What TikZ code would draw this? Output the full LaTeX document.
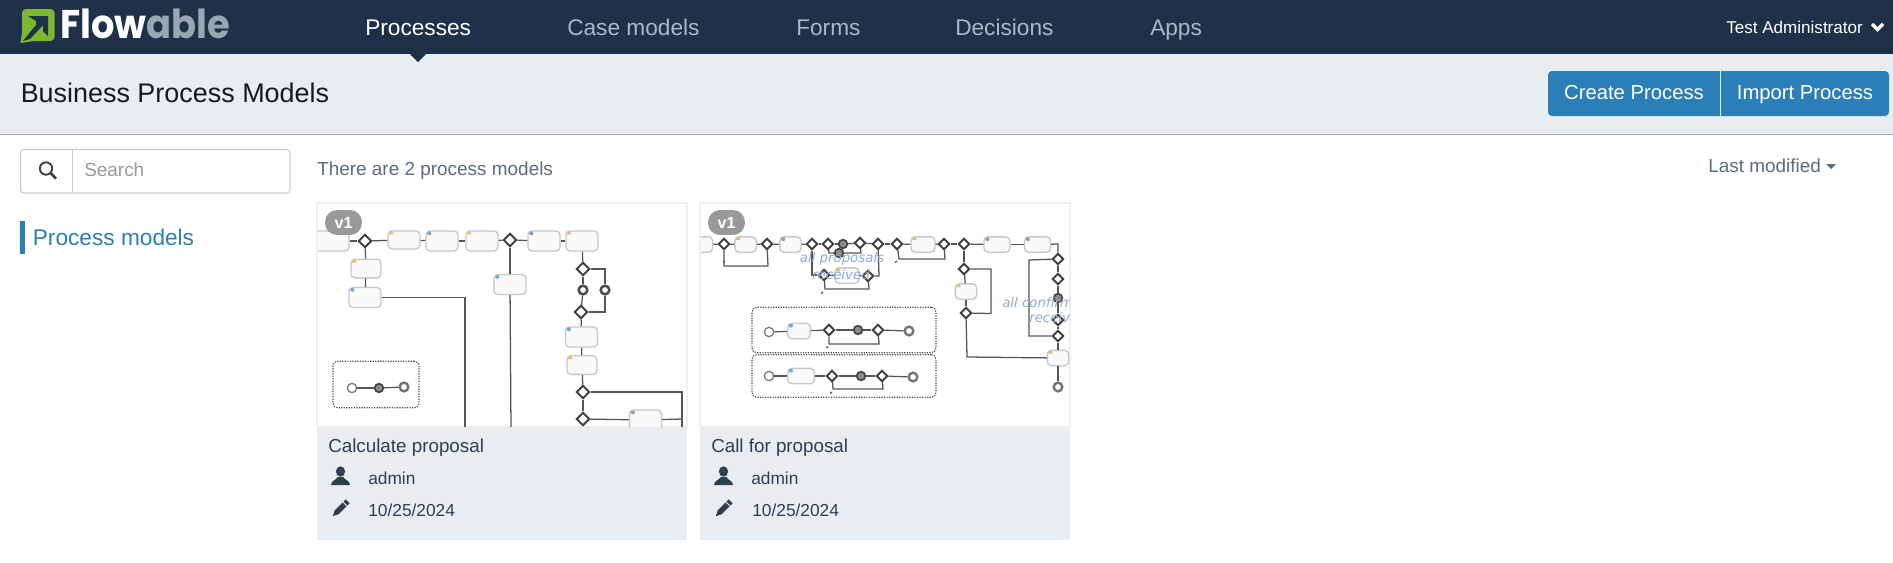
\documentclass[tikz,border=0pt]{standalone}
\usepackage{fontspec}
\setmainfont{Liberation Sans}
\newfontfamily\logofont{Poppins}
\newfontfamily\notefont{DejaVu Sans}
\usetikzlibrary{shapes.geometric}
\definecolor{navbg}{HTML}{1F3148}
\definecolor{headbg}{HTML}{E8EDF1}
\definecolor{headline}{HTML}{A8B2BD}
\definecolor{navgrey}{HTML}{A9B9C6}
\definecolor{btnblue}{HTML}{2A7FB8}
\definecolor{cardline}{HTML}{EDEFF1}
\definecolor{inktext}{HTML}{2F3F52}
\definecolor{softtext}{HTML}{5C6B80}
\definecolor{flowline}{HTML}{555555}
\definecolor{logogreen}{HTML}{79B82F}
\definecolor{notecol}{HTML}{8FAAD4}
\definecolor{warncol}{HTML}{E2BC6E}
\definecolor{infocol}{HTML}{6FA8DC}
\tikzset{
  navlabel/.style={anchor=base west,inner sep=0pt,font=\fontsize{17}{20}\selectfont},
  btnlabel/.style={anchor=base,inner sep=0pt,text=white,font=\fontsize{15.2}{18}\selectfont},
  cardtitle/.style={anchor=base west,inner sep=0pt,text=inktext,font=\fontsize{14.1}{17}\selectfont},
  cardtext/.style={anchor=base west,inner sep=0pt,text=inktext,font=\fontsize{13}{16}\selectfont},
  badge/.style={fill=black!40,rounded corners=9pt,text=white,inner sep=0pt,minimum width=27.7pt,minimum height=18.7pt,font=\bfseries\fontsize{12}{14}\selectfont},
  taskbox/.style={draw=black!22,line width=1pt,fill=black!2,rounded corners=3pt,inner sep=0pt},
  bigtask/.style={taskbox,minimum width=24pt,minimum height=15pt},
  smalltask/.style={taskbox,minimum width=16pt,minimum height=11.5pt},
  gate/.style={diamond,draw=black!75,fill=white,line width=1.4pt,inner sep=0pt,minimum size=10pt},
  smallgate/.style={gate,minimum size=8.5pt},
  endevent/.style={circle,draw=black!55,fill=white,line width=1.8pt,inner sep=0pt,minimum size=6.5pt},
  midevent/.style={circle,draw=black!75,fill=black!45,line width=1.2pt,inner sep=0pt,minimum size=6.5pt},
  ringevent/.style={circle,draw=black!70,fill=white,line width=1.9pt,inner sep=0pt,minimum size=6.5pt},
  startevent/.style={circle,draw=black!50,fill=white,line width=1pt,inner sep=0pt,minimum size=7pt},
  flow/.style={draw=flowline,line width=.95pt},
  poolbox/.style={draw=black!70,densely dotted,line width=.9pt,rounded corners=3.5pt},
  notelabel/.style={inner sep=0pt,text=notecol,font=\notefont\itshape\fontsize{10}{12}\selectfont},
  warnmark/.pic={\fill[warncol] (0,-3)--(2.4,1)--(-2.4,1)--cycle;},
  infomark/.pic={\fill[infocol] (0,0) circle (2);},
  personicon/.pic={\fill[inktext] (0,-4.5) ellipse (4.6 and 5.2);
    \fill[inktext] (-9.5,9) .. controls (-9.5,4.5) and (-4,4) .. (-2.8,1) -- (2.8,1) .. controls (4,4) and (9.5,4.5) .. (9.5,9) -- cycle;},
  pencilicon/.pic={\fill[inktext,rotate=45] (-6,-2.8) -- (5,-2.8) -- (5,2.8) -- (-6,2.8) -- (-11.5,0) -- cycle;
    \fill[inktext,rotate=45] (6.3,-2.8) -- (9.5,-2.8) -- (9.5,2.8) -- (6.3,2.8) -- cycle;}
}
\begin{document}
\begin{tikzpicture}[x=.75pt,y=-.75pt]
\useasboundingbox (0,0) rectangle (1893,562);
\fill[white] (0,0) rectangle (1893,562);
% top bar
\fill[headbg] (0,54) rectangle (1893,134);
\draw[headline,line width=.9pt] (0,134.7) -- (1893,134.7);
\fill[navbg] (0,0) rectangle (1893,54);
\fill[navbg] (410,54) -- (426,54) -- (418,62) -- cycle;
\fill[logogreen,rounded corners=3pt] (22,9) rectangle (54.5,41);
\fill[logogreen] (22,33) -- (20.5,43) -- (34,41) -- cycle;
\fill[navbg] (28,16) -- (48,16) -- (48,36) -- (43,31) -- (43,24) -- (36,24) -- (36,21) -- cycle;
\fill[navbg] (23,41) -- (40,20) -- (44,24) -- (30,39) -- cycle;
\node[anchor=base west,inner sep=0pt,text=white,font=\logofont\bfseries\fontsize{30}{36}\selectfont] (logotext) at (60,38.5) {\scalebox{.92}[1]{Flow\textcolor{navgrey!90!black}{able}}};
\node[navlabel,text=white] (navproc) at (365,35) {Processes};
\node[navlabel,text=navgrey] (navcase) at (567,35) {Case models};
\node[navlabel,text=navgrey] (navform) at (796,35) {Forms};
\node[navlabel,text=navgrey] (navdec) at (955,35) {Decisions};
\node[navlabel,text=navgrey] (navapps) at (1150,35) {Apps};
\node[anchor=base west,inner sep=0pt,text=white,font=\fontsize{12.8}{15}\selectfont] (user) at (1726,33) {Test Administrator};
\draw[white,line width=2.6pt] (1872,24) -- (1877.5,29.5) -- (1883,24);
% header row
\node[anchor=base west,inner sep=0pt,text=black!90,font=\fontsize{20.2}{24}\selectfont] (pagetitle) at (20.5,102) {Business Process Models};
\fill[btnblue,rounded corners=3pt] (1548,71) rectangle (1889,116);
\draw[white!85!btnblue,line width=.7pt] (1720,71) -- (1720,116);
\node[btnlabel] (btncreate) at (1634,99.3) {Create Process};
\node[btnlabel] (btnimport) at (1805,99.3) {Import Process};
% side bar
\draw[black!20,line width=.8pt,rounded corners=2.5pt] (20.5,149.5) rectangle (290,193);
\draw[black!20,line width=.8pt] (72.5,149.5) -- (72.5,193);
\draw[black!75,line width=1.4pt] (46,168.5) circle (6.2);
\draw[black!75,line width=1.9pt] (50.5,173) -- (56,178.5);
\node[anchor=base west,inner sep=0pt,text=black!40,font=\fontsize{14.2}{17}\selectfont] (searchtext) at (84,176.7) {Search};
\fill[btnblue] (20,221) rectangle (25,254);
\node[anchor=base west,inner sep=0pt,text=btnblue,font=\fontsize{17}{20}\selectfont] (sidelink) at (32.6,245) {Process models};
% list header
\node[anchor=base west,inner sep=0pt,text=softtext,font=\fontsize{14.2}{17}\selectfont] (countline) at (317,175) {There are 2 process models};
\node[anchor=base west,inner sep=0pt,text=softtext,font=\fontsize{14.2}{17}\selectfont] (sortline) at (1708,172) {Last modified};
\fill[softtext] (1826,164) -- (1836,164) -- (1831,169) -- cycle;
% first card
\fill[headbg] (317,426) rectangle (687,540);
\draw[cardline,line width=.8pt] (317,426) -- (317,203) -- (687,203) -- (687,426);
\begin{scope}
\clip (317.5,203.5) rectangle (686.5,426);
\node[bigtask,minimum width=33pt] (a0) at (327,241) {};
\node[gate] (a1) at (365,241) {};
\node[bigtask,minimum height=13.5pt] (a2) at (404,240) {};
\node[bigtask] (a3) at (442,241) {};
\node[bigtask] (a4) at (482,241) {};
\node[gate] (a5) at (510,240) {};
\node[bigtask] (a6) at (544,241) {};
\node[bigtask] (a7) at (582,241) {};
\node[bigtask,minimum width=22.5pt,minimum height=14pt] (a8) at (366,268.5) {};
\node[bigtask] (a9) at (365,297.5) {};
\node[bigtask] (a10) at (510,284.5) {};
\node[gate] (a11) at (583,269) {};
\node[ringevent] (a12) at (583,290) {};
\node[ringevent] (a13) at (605,290) {};
\node[gate] (a14) at (581,312) {};
\node[bigtask] (a15) at (581.5,337) {};
\node[bigtask,minimum width=22.5pt,minimum height=14pt] (a16) at (582,365) {};
\node[gate] (a17) at (583,392) {};
\node[gate] (a18) at (583,419) {};
\node[bigtask] (a19) at (645.5,420) {};
\coordinate (a9end) at (465,430);
\coordinate (a10end) at (511,430);
\coordinate (a17end) at (682,430);
\coordinate (a18end) at (583,430);
\coordinate (a19end) at (682,419);
\draw[flow] (a0) -- (a1);
\draw[flow] (a1) -- (a2);
\draw[flow] (a2) -- (a3);
\draw[flow] (a3) -- (a4);
\draw[flow] (a4) -- (a5);
\draw[flow] (a5) -- (a6);
\draw[flow] (a6) -- (a7);
\draw[flow] (a1) -- (a8);
\draw[flow] (a8) -- (a9);
\draw[flow] (a9.east) -| (a9end);
\draw[flow] (a5) -- (a10);
\draw[flow] (a10) -- (a10end);
\draw[flow] (a7) -- (a11);
\draw[flow] (a11) -- (a12);
\draw[flow] (a12) -- (a14);
\draw[flow] (a11.east) -| (a13);
\draw[flow] (a13) |- (a14.east);
\draw[flow] (a14) -- (a15);
\draw[flow] (a15) -- (a16);
\draw[flow] (a16) -- (a17);
\draw[flow] (a17) -- (a18);
\draw[flow] (a17.east) -| (a17end);
\draw[flow] (a18) -- (a19);
\draw[flow] (a19) -- (a19end);
\draw[flow] (a18) -- (a18end);
\foreach \n in {a2,a4,a7,a8,a16}
  \path ([shift={(4,3)}]\n.north west) pic {warnmark};
\foreach \n in {a3,a6,a9,a10,a15,a19}
  \path ([shift={(4,3)}]\n.north west) pic {infomark};
\end{scope}
\node[badge] (abadge) at (343.5,222.5) {v1};
\node[poolbox,minimum width=64.5pt,minimum height=35pt] (apool) at (376,384.5) {};
\node[startevent] (a20) at (352,388) {};
\node[midevent] (a21) at (379,388) {};
\node[endevent] (a22) at (404,387) {};
\draw[flow] (a20) -- (a21);
\draw[flow] (a21) -- (a22);
\node[cardtitle] (atitle) at (328,452) {Calculate proposal};
\node[cardtext] (aowner) at (368,484) {admin};
\node[cardtext] (adate) at (368,516) {10/25/2024};
\path (340.5,476) pic {personicon};
\path (341,508) pic {pencilicon};
% second card
\fill[headbg] (700,426) rectangle (1070,540);
\draw[cardline,line width=.8pt] (700,426) -- (700,203) -- (1070,203) -- (1070,426);
\begin{scope}
\clip (700.5,203.5) rectangle (1069.5,426);
\node[smalltask] (b0) at (702,244.5) {};
\node[smallgate] (b1) at (724,244) {};
\node[smalltask] (b2) at (745.5,244.5) {};
\node[smallgate] (b3) at (767,244) {};
\node[smalltask] (b4) at (790.5,244.5) {};
\node[smallgate] (b5) at (812,244) {};
\node[smallgate] (b6) at (828,244) {};
\node[midevent] (b7) at (843,244) {};
\node[smallgate] (b8) at (860,243) {};
\node[smallgate] (b9) at (878,244) {};
\node[smallgate] (b10) at (897,244) {};
\node[smalltask,minimum width=18pt] (b11) at (923,244.5) {};
\node[smallgate] (b12) at (944,244) {};
\node[smallgate] (b13) at (964,244) {};
\node[smalltask,minimum width=19.5pt] (b14) at (997,244.5) {};
\node[smalltask,minimum width=19.5pt] (b15) at (1037.5,244.5) {};
\node[smallgate] (b16) at (1058,259) {};
\node[smallgate] (b17) at (1058,279) {};
\node[midevent] (b18) at (1058,298) {};
\node[smallgate] (b19) at (1058,320) {};
\node[smallgate] (b20) at (1058,336) {};
\node[smalltask] (b21) at (1058,358) {};
\node[endevent] (b22) at (1058,387) {};
\node[smallgate] (b23) at (964,269) {};
\node[smalltask] (b24) at (966,291.5) {};
\node[smallgate] (b25) at (966,313) {};
\node[midevent] (b26) at (839,253) {};
\node[smallgate] (b27) at (824,275) {};
\node[smalltask,minimum width=18pt] (b28) at (847,275.5) {};
\node[smallgate] (b29) at (868,276) {};
\coordinate (b15turn) at (1058,244);
\coordinate (b1low) at (724,266);
\coordinate (b3low) at (768,266);
\coordinate (b5low) at (812,275);
\coordinate (b6low) at (829,253);
\coordinate (b8low) at (861,253);
\coordinate (b9low) at (879,276);
\coordinate (b10low) at (899,259);
\coordinate (b12low) at (945,259);
\coordinate (b16far) at (1029,260);
\coordinate (b20far) at (1029,336);
\coordinate (b23far) at (991,269);
\coordinate (b25far) at (991,313.5);
\coordinate (b25low) at (967,357);
\coordinate (b27low) at (825,289);
\coordinate (b29low) at (869,289);
\draw[flow] (b0) -- (b1);
\draw[flow] (b1) -- (b2);
\draw[flow] (b2) -- (b3);
\draw[flow] (b3) -- (b4);
\draw[flow] (b4) -- (b5);
\draw[flow] (b5) -- (b6);
\draw[flow] (b6) -- (b7);
\draw[flow] (b7) -- (b8);
\draw[flow] (b8) -- (b9);
\draw[flow] (b9) -- (b10);
\draw[flow] (b10) -- (b11);
\draw[flow] (b11) -- (b12);
\draw[flow] (b12) -- (b13);
\draw[flow] (b13) -- (b14);
\draw[flow] (b14) -- (b15);
\draw[flow] (b15) -- (b15turn) -- (b16);
\draw[flow] (b16) -- (b17);
\draw[flow] (b17) -- (b18);
\draw[flow] (b18) -- (b19);
\draw[flow] (b19) -- (b20);
\draw[flow] (b20) -- (b21);
\draw[flow] (b21) -- (b22);
\draw[flow] (b1) -- (b1low) -- (b3low) -- (b3);
\draw[flow] (b5) -- (b5low) -- (b27);
\draw[flow] (b6) -- (b6low) -- (b26);
\draw[flow] (b26) -- (b8low) -- (b8);
\draw[flow] (b9) -- (b9low) -- (b29);
\draw[flow] (b10) -- (b10low) -- (b12low) -- (b12);
\draw[flow] (b13) -- (b23);
\draw[flow] (b23) -- (b24);
\draw[flow] (b24) -- (b25);
\draw[flow] (b23) -- (b23far) -- (b25far) -- (b25);
\draw[flow] (b25) -- (b25low) -- (b21);
\draw[flow] (b16) -- (b16far) -- (b20far) -- (b20);
\draw[flow] (b27) -- (b28);
\draw[flow] (b28) -- (b29);
\draw[flow] (b27) -- (b27low) -- (b29low) -- (b29);
\foreach \n in {b2,b11,b21,b24,b28}
  \path ([shift={(4,3)}]\n.north west) pic {warnmark};
\foreach \n in {b4,b14,b15}
  \path ([shift={(4,3)}]\n.north west) pic {infomark};
\foreach \x/\y in {725/261,823/292,897/261}
  \draw[black!70,line width=.9pt] (\x,\y) -- ++(-2,1.5);
\node[notelabel] (bnote1) at (842,259) {all proposals};
\node[notelabel] (bnote2) at (841,275) {received};
\node[notelabel,anchor=west] (bnote3) at (1002,303) {all confirm};
\node[notelabel,anchor=west] (bnote4) at (1029,318) {receiv};
\end{scope}
\node[badge] (bbadge) at (726.5,222.5) {v1};
% pools of second card
\node[poolbox,minimum width=138pt,minimum height=34pt] (bpoolone) at (844,330) {};
\node[poolbox,minimum width=138pt,minimum height=32pt] (bpooltwo) at (844,376) {};
\node[startevent] (c0) at (769,332) {};
\node[smalltask,minimum width=17pt] (c1) at (799,331) {};
\node[smallgate] (c2) at (829,330) {};
\node[midevent] (c3) at (858,330) {};
\node[smallgate] (c4) at (878,330) {};
\node[endevent] (c5) at (909,331) {};
\coordinate (c2low) at (829,344);
\coordinate (c4low) at (879,344);
\draw[flow] (c0) -- (c1);
\draw[flow] (c1) -- (c2);
\draw[flow] (c2) -- (c3);
\draw[flow] (c3) -- (c4);
\draw[flow] (c4) -- (c5);
\draw[flow] (c2) -- (c2low) -- (c4low) -- (c4);
\path ([shift={(4,3)}]c1.north west) pic {infomark};
\draw[black!70,line width=.9pt] (828,346.5) -- ++(-2,1.5);
\node[startevent] (d0) at (769,376) {};
\node[smalltask,minimum width=20pt] (d1) at (801,376) {};
\node[smallgate] (d2) at (832,376) {};
\node[midevent] (d3) at (861,376) {};
\node[smallgate] (d4) at (882,376) {};
\node[endevent] (d5) at (913,377) {};
\coordinate (d2low) at (833,389);
\coordinate (d4low) at (883,389);
\draw[flow] (d0) -- (d1);
\draw[flow] (d1) -- (d2);
\draw[flow] (d2) -- (d3);
\draw[flow] (d3) -- (d4);
\draw[flow] (d4) -- (d5);
\draw[flow] (d2) -- (d2low) -- (d4low) -- (d4);
\path ([shift={(4,3)}]d1.north west) pic {infomark};
\draw[black!70,line width=.9pt] (832,392) -- ++(-2,1.5);
\node[cardtitle] (btitle) at (711,452) {Call for proposal};
\node[cardtext] (bowner) at (751,484) {admin};
\node[cardtext] (bdate) at (752,516) {10/25/2024};
\path (723.5,476) pic {personicon};
\path (724,508) pic {pencilicon};
\end{tikzpicture}
\end{document}
